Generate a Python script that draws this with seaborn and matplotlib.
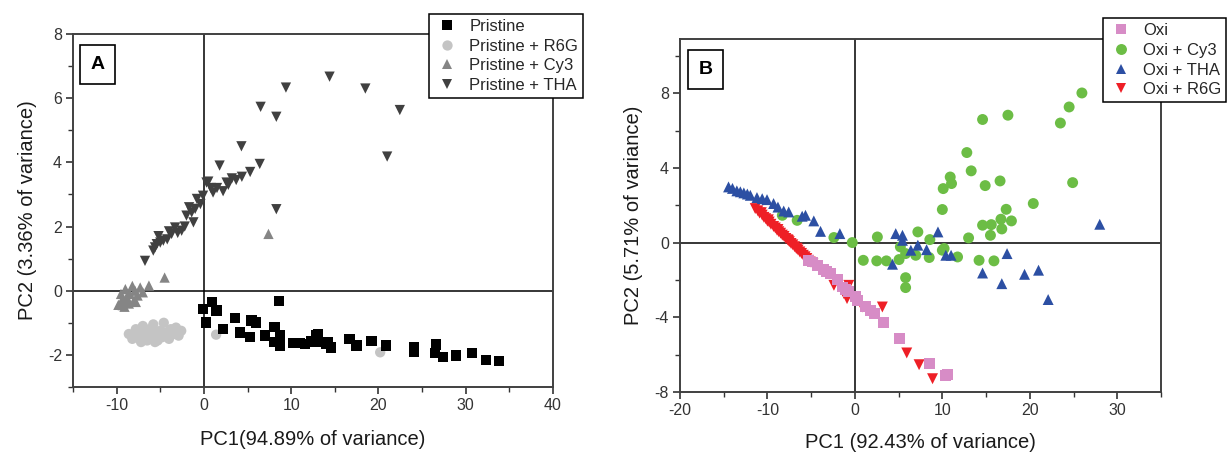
import numpy as np
import pandas as pd
import matplotlib
matplotlib.use("Agg")
import matplotlib.pyplot as plt
import seaborn as sns
from matplotlib.ticker import MultipleLocator

# ---------------- Panel A data ----------------
a_groups = ["Pristine", "Pristine + R6G", "Pristine + Cy3", "Pristine + THA"]

a_pristine_x = [-0.1, 0.9, 1.45, 0.23, 8.6, 2.2, 3.55, 4.1, 5.45, 6.0, 5.3, 7.0, 8.1, 8.7, 8.1, 8.7,
                10.2, 11.6, 12.9, 13.3, 14.05, 14.6, 16.7, 17.5, 19.2, 20.85, 24.05, 24.05, 26.6,
                26.5, 27.4, 28.9, 30.7, 32.3, 33.8, 13.1, 14.2, 11.0, 12.3]
a_pristine_y = [-0.57, -0.36, -0.62, -0.99, -0.33, -1.2, -0.85, -1.3, -0.93, -0.99, -1.45, -1.4,
                -1.14, -1.4, -1.6, -1.71, -1.64, -1.66, -1.4, -1.6, -1.66, -1.77, -1.5, -1.71,
                -1.56, -1.71, -1.77, -1.92, -1.68, -1.95, -2.06, -2.02, -1.95, -2.15, -2.2,
                -1.35, -1.6, -1.62, -1.58]

a_r6g_x = [-8.6, -8.2, -7.8, -7.5, -7.2, -7.0, -6.8, -6.5, -6.2, -6.0, -5.8, -5.5, -5.3, -5.0,
           -4.8, -4.6, -4.3, -4.0, -3.8, -3.5, -3.2, -2.9, -2.6, -7.5, -6.3, -5.6, 1.4, 20.2]
a_r6g_y = [-1.35, -1.5, -1.2, -1.45, -1.6, -1.1, -1.3, -1.55, -1.2, -1.4, -1.05, -1.3, -1.55,
           -1.25, -1.45, -1.0, -1.3, -1.5, -1.2, -1.35, -1.15, -1.4, -1.25, -1.35, -1.45, -1.6,
           -1.37, -1.92]

a_cy3_x = [7.4, -4.5, -6.3, -7.3, -7.9, -8.5, -8.85, -9.4, -9.8, -8.0, -8.6, -9.1, -7.6, -8.2,
           -9.0, -9.5, -7.0, -8.8, -9.3, -7.8]
a_cy3_y = [1.77, 0.41, 0.16, 0.1, 0.0, -0.1, -0.2, -0.3, -0.44, -0.3, -0.4, -0.5, -0.15, 0.15,
           0.05, -0.1, -0.05, -0.3, -0.45, -0.35]

a_tha_x = [14.4, 9.4, 6.5, 8.3, 4.3, 1.8, 6.4, 5.3, 4.35, 3.2, 2.6, 0.5, 2.2, 1.05, -0.1, -0.8,
           18.5, 22.45, 21.0, 0.3, -1.4, -1.2, -2.0, -2.55, -3.3, -3.7, -4.65, -5.4, -5.8, -6.75,
           8.3, 2.8, 3.7, 1.5, -0.4, -1.7, -3.0, -4.2, -5.0, -5.6, -2.2, -1.0, 0.8, -4.0, -5.2]
a_tha_y = [6.67, 6.33, 5.73, 5.42, 4.5, 3.9, 3.95, 3.7, 3.55, 3.5, 3.37, 3.4, 3.1, 3.06, 2.96,
           2.86, 6.3, 5.63, 4.18, 3.37, 2.44, 2.13, 2.34, 1.87, 1.97, 1.77, 1.56, 1.45, 1.25, 0.93,
           2.54, 3.3, 3.45, 3.2, 2.7, 2.6, 1.8, 1.6, 1.5, 1.35, 2.0, 2.55, 3.2, 1.85, 1.7]

# ---------------- Panel B data ----------------
b_groups = ["Oxi", "Oxi + Cy3", "Oxi + THA", "Oxi + R6G"]

b_oxi_x = [-4.9, -4.3, -3.6, -2.8, -2.0, -1.45, -0.7, 0.08, 0.27, 1.8, 2.2, 3.3, 5.05, 8.5,
           10.6, -3.2, -1.1, 1.2, 10.4, -5.3]
b_oxi_y = [-1.04, -1.22, -1.45, -1.66, -1.98, -2.38, -2.64, -2.91, -3.09, -3.63, -3.8, -4.3,
           -5.14, -6.45, -7.05, -1.55, -2.5, -3.4, -7.1, -0.95]

b_r6g_x = [-11.4, -11.1, -10.9, -10.6, -10.4, -10.2, -10.0, -9.8, -9.6, -9.3, -9.1, -8.9, -8.7,
           -8.5, -8.3, -8.1, -7.9, -7.7, -7.5, -7.3, -7.1, -6.9, -6.7, -6.5, -6.3, -6.1, -5.9,
           -5.7, -5.5, -5.3, -5.1, -4.8, -3.74, -2.4, -0.7, -0.9, -1.26, 0.85, 3.14, 5.93, 7.34,
           8.88, -10.7, -9.9, -8.8, -7.6, -6.6]
b_r6g_y = [1.82, 1.70, 1.58, 1.47, 1.35, 1.28, 1.15, 1.10, 0.98, 0.86, 0.78, 0.66, 0.58, 0.50,
           0.40, 0.33, 0.22, 0.15, 0.05, -0.05, -0.12, -0.22, -0.32, -0.40, -0.50, -0.58, -0.68,
           -0.76, -0.85, -0.95, -1.04, -1.15, -1.48, -2.29, -2.29, -3.0, -2.73, -3.45, -3.45,
           -5.91, -6.54, -7.29, 1.60, 1.22, 0.70, 0.12, -0.30]

b_tha_x = [-14.45, -14.0, -13.5, -12.7, -11.96, -11.2, -10.05, -10.6, -9.3, -8.14, -7.57, -6.03,
           -5.65, -4.7, -3.93, -1.72, 4.67, 5.44, 5.44, 7.2, 6.4, 8.2, 9.5, 10.4, 11.0, 4.3, 17.4,
           14.6, 16.8, 19.4, 21.0, 22.1, 28.0, -12.3, -8.8, -13.1]
b_tha_y = [2.98, 2.9, 2.77, 2.66, 2.53, 2.41, 2.3, 2.35, 2.09, 1.69, 1.64, 1.41, 1.46, 1.16, 0.6,
           0.48, 0.48, 0.39, 0.12, -0.14, -0.41, -0.38, 0.57, -0.68, -0.68, -1.16, -0.59, -1.63,
           -2.2, -1.7, -1.48, -3.05, 0.98, 2.6, 1.9, 2.72]

b_cy3_x = [25.96, 24.5, 23.5, 17.5, 14.6, 12.8, 13.3, 10.9, 11.05, 10.1, 14.9, 16.6, 24.9, 20.4,
           10.0, 17.3, 16.7, 17.9, 14.6, 15.6, 16.8, 15.5, 13.0, 7.2, 8.57, 10.2, -0.3, 2.57, 5.2,
           5.8, 5.05, 6.96, 8.5, 10.0, 11.74, 0.96, 2.5, 3.6, 5.8, 5.8, 14.2, 15.9, -8.3, -6.6,
           -2.4]
b_cy3_y = [8.01, 7.26, 6.4, 6.82, 6.59, 4.82, 3.84, 3.51, 3.16, 2.89, 3.05, 3.3, 3.21, 2.09, 1.77,
           1.78, 1.25, 1.16, 0.93, 0.96, 0.73, 0.39, 0.25, 0.57, 0.16, -0.32, 0.0, 0.3, -0.23,
           -0.59, -0.91, -0.68, -0.8, -0.41, -0.77, -0.95, -0.98, -0.98, -1.88, -2.41, -0.95,
           -0.98, 1.46, 1.19, 0.27]

# ---------------- Build frames ----------------
def frame(parts):
    rows = []
    for name, xs, ys in parts:
        rows.append(pd.DataFrame({"PC1": xs, "PC2": ys, "group": name}))
    return pd.concat(rows, ignore_index=True)

dfA = frame([("Pristine + R6G", a_r6g_x, a_r6g_y),
             ("Pristine + Cy3", a_cy3_x, a_cy3_y),
             ("Pristine + THA", a_tha_x, a_tha_y),
             ("Pristine", a_pristine_x, a_pristine_y)])
dfB = frame([("Oxi + R6G", b_r6g_x, b_r6g_y),
             ("Oxi", b_oxi_x, b_oxi_y),
             ("Oxi + Cy3", b_cy3_x, b_cy3_y),
             ("Oxi + THA", b_tha_x, b_tha_y)])

sns.set_theme(style="white")
plt.rcParams['font.family'] = ['Liberation Sans', 'DejaVu Sans']
plt.rcParams['axes.unicode_minus'] = False

fig = plt.figure(figsize=(12.31, 4.55), dpi=100)
axA = fig.add_axes([0.0593, 0.1495, 0.3899, 0.7758])
axB = fig.add_axes([0.5524, 0.1385, 0.3907, 0.7758])

palA = {"Pristine": "#000000", "Pristine + R6G": "#c4c4c4",
        "Pristine + Cy3": "#858585", "Pristine + THA": "#404040"}
mkA = {"Pristine": "s", "Pristine + R6G": "o", "Pristine + Cy3": "^", "Pristine + THA": "v"}
palB = {"Oxi": "#d78cc6", "Oxi + Cy3": "#6cbd45", "Oxi + THA": "#2c4fa3", "Oxi + R6G": "#ee1f26"}
mkB = {"Oxi": "s", "Oxi + Cy3": "o", "Oxi + THA": "^", "Oxi + R6G": "v"}

sns.scatterplot(data=dfA, x="PC1", y="PC2", hue="group", style="group",
                hue_order=a_groups, style_order=a_groups, palette=palA, markers=mkA,
                s=55, edgecolor="none", linewidth=0, ax=axA, legend="full", zorder=3)
sns.scatterplot(data=dfB, x="PC1", y="PC2", hue="group", style="group",
                hue_order=b_groups, style_order=b_groups, palette=palB, markers=mkB,
                s=62, edgecolor="none", linewidth=0, ax=axB, legend="full", zorder=3)

def style_axis(ax, xlim, ylim, xmaj, xmin, ymaj, ymin, xlabel, ylabel, xpad):
    ax.set_xlim(*xlim)
    ax.set_ylim(*ylim)
    ax.axhline(0, color="black", lw=1.1, zorder=1)
    ax.axvline(0, color="black", lw=1.1, zorder=1)
    ax.xaxis.set_major_locator(MultipleLocator(xmaj))
    ax.xaxis.set_minor_locator(MultipleLocator(xmin))
    ax.yaxis.set_major_locator(MultipleLocator(ymaj))
    ax.yaxis.set_minor_locator(MultipleLocator(ymin))
    ax.tick_params(which="major", direction="out", length=5, width=1.2, color="#333333",
                   labelsize=11.5, labelcolor="#333333", bottom=True, left=True, pad=3)
    ax.tick_params(which="minor", direction="out", length=3.5, width=1.0, color="#333333",
                   bottom=True, left=True)
    for sp in ax.spines.values():
        sp.set_color("#404040")
        sp.set_linewidth(1.4)
    ax.set_xlabel(xlabel, fontsize=14.5, color="#1a1a1a", labelpad=xpad)
    ax.set_ylabel(ylabel, fontsize=14.5, color="#1a1a1a", labelpad=8)

style_axis(axA, (-15, 40), (-3, 8), 10, 5, 2, 1,
           "PC1(94.89% of variance)", "PC2 (3.36% of variance)", 12)
style_axis(axB, (-20, 35), (-8, 10.9), 10, 5, 4, 2,
           "PC1 (92.43% of variance)", "PC2 (5.71% of variance)", 11)

for ax, lab, pos in [(axA, "A", (0.051, 0.914)), (axB, "B", (0.0536, 0.9136))]:
    ax.text(pos[0], pos[1], lab, transform=ax.transAxes, ha="center", va="center",
            fontsize=14, fontweight="bold", color="black", zorder=6,
            bbox=dict(boxstyle="square,pad=0.55", fc="white", ec="black", lw=1.2))

for ax, anchor in [(axA, (0.742, 1.057)), (axB, (0.879, 1.059))]:
    sns.move_legend(ax, loc="upper left", bbox_to_anchor=anchor, title=None, frameon=True,
                    fontsize=12, borderaxespad=0, fancybox=False, edgecolor="black",
                    framealpha=1, labelspacing=0.28, handletextpad=0.5, borderpad=0.3,
                    handlelength=1.6)
    leg = ax.get_legend()
    leg.get_frame().set_linewidth(1.1)
    leg.set_zorder(10)

fig.savefig("out.png", dpi=100)
